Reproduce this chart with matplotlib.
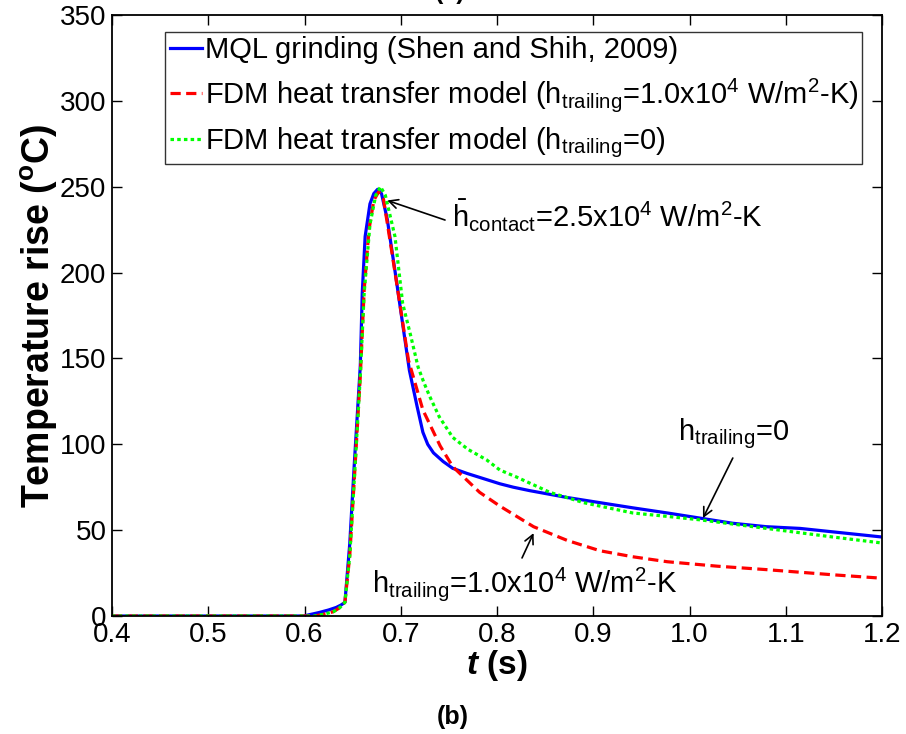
import matplotlib
matplotlib.use("Agg")
import matplotlib.pyplot as plt

plt.rcParams['font.family'] = ['Liberation Sans', 'DejaVu Sans']
plt.rcParams['mathtext.fontset'] = 'custom'
plt.rcParams['mathtext.rm'] = 'Liberation Sans'
plt.rcParams['mathtext.it'] = 'Liberation Sans:italic'
plt.rcParams['mathtext.bf'] = 'Liberation Sans:bold'
try:
    plt.rcParams['mathtext.bfit'] = 'Liberation Sans:italic:bold'
except KeyError:
    pass

# ---- data ----
t_mql = [0.40, 0.60, 0.603, 0.615, 0.625, 0.633, 0.638, 0.642, 0.647, 0.652, 0.658, 0.660,
         0.663, 0.668, 0.672, 0.676, 0.680, 0.686, 0.694, 0.702, 0.709, 0.717, 0.723, 0.728,
         0.734, 0.744, 0.754, 0.769, 0.803, 0.817, 0.834, 0.873, 0.907, 0.941, 0.977, 1.011,
         1.045, 1.08, 1.115, 1.149, 1.2]
T_mql = [0, 0, 0.5, 2, 3.5, 5, 6.4, 8, 42, 91, 146, 188,
         221, 240, 246, 248.5, 246, 231, 201, 170, 143, 122, 107, 100,
         95, 90, 86, 83, 77, 75, 73, 69, 66, 63, 60, 57,
         54, 52, 51, 49, 46]

t_h1 = [0.40, 0.61, 0.62, 0.63, 0.637, 0.642, 0.647, 0.652, 0.658, 0.662, 0.667, 0.672,
        0.677, 0.682, 0.691, 0.699, 0.708, 0.723, 0.741, 0.754, 0.782, 0.803, 0.838, 0.873,
        0.907, 0.941, 0.977, 1.029, 1.08, 1.149, 1.2]
T_h1 = [0, 0, 1, 2.5, 5, 8, 35, 82, 140, 190, 225, 242,
        247, 243, 211, 182, 149, 120, 99, 87, 72, 64, 52, 44,
        38, 34.5, 31.6, 29, 27, 24, 22]

t_h0 = [0.40, 0.61, 0.62, 0.63, 0.637, 0.642, 0.647, 0.652, 0.658, 0.662, 0.668, 0.674,
        0.679, 0.684, 0.694, 0.702, 0.710, 0.718, 0.724, 0.730, 0.740, 0.754, 0.770, 0.789,
        0.803, 0.820, 0.855, 0.890, 0.941, 0.977, 1.011, 1.08, 1.149, 1.2]
T_h0 = [0, 0, 1, 2.5, 5, 8, 35, 82, 140, 188, 228, 245,
        250, 245, 221, 182, 164, 145, 136, 128, 116, 104, 97, 91,
        85, 81, 72, 66, 60, 58, 56, 51, 46, 42.5]

labels = ['MQL grinding (Shen and Shih, 2009)',
          r'FDM heat transfer model (h$_{\mathrm{trailing}}$=1.0x10$^{4}$ W/m$^{2}$-K)',
          r'FDM heat transfer model (h$_{\mathrm{trailing}}$=0)']
xticks = [0.4, 0.5, 0.6, 0.7, 0.8, 0.9, 1.0, 1.1, 1.2]
xticklabels = ['0.4', '0.5', '0.6', '0.7', '0.8', '0.9', '1.0', '1.1', '1.2']
yticks = [0, 50, 100, 150, 200, 250, 300, 350]

fig = plt.figure(figsize=(9.06, 7.34), dpi=100)
ax = fig.add_axes([112/906, 1-616/734, 770/906, 601/734])

ax.plot(t_mql, T_mql, color='#0000ff', lw=2.3, ls='-', label=labels[0])
ax.plot(t_h1, T_h1, color='#ff0000', lw=2.3, ls=(0, (3.2, 1.7)), label=labels[1])
ax.plot(t_h0, T_h0, color='#00ff00', lw=2.3, ls=(0, (1.1, 1.0)), label=labels[2])

ax.set_xlim(0.4, 1.2)
ax.set_ylim(0, 350)
ax.set_xticks(xticks)
ax.set_xticklabels(xticklabels)
ax.set_yticks(yticks)
ax.tick_params(direction='in', length=7, width=1, top=True, right=True,
               labelsize=20, pad=4)
for s in ax.spines.values():
    s.set_linewidth(1.3)

ax.set_xlabel(r'$\mathbfit{t}$ (s)', fontsize=24, fontweight='bold', labelpad=0)
ax.set_ylabel(r'Temperature rise ($^{\mathbf{o}}$C)', fontsize=27, fontweight='bold', labelpad=0)

leg = ax.legend(loc='upper left', bbox_to_anchor=(0.069, 0.972), borderaxespad=0,
                fontsize=21, frameon=True, fancybox=False, edgecolor='black',
                handlelength=1.1, handletextpad=0.1, labelspacing=0.4,
                borderpad=0.15)
leg.get_frame().set_linewidth(1.0)

ann_fs = 21
arrow_kw = dict(arrowstyle='->', color='black', lw=1.2, shrinkA=0, shrinkB=0,
                mutation_scale=16)

ax.text(0.753, 226.5, r'$\bar{\mathrm{h}}_{\mathrm{contact}}$=2.5x10$^{4}$ W/m$^{2}$-K',
        fontsize=ann_fs, va='baseline', ha='left')
ax.annotate('', xy=(0.686, 242), xytext=(0.746, 230.6), arrowprops=arrow_kw)

ax.text(0.988, 102.5, r'h$_{\mathrm{trailing}}$=0', fontsize=ann_fs, va='baseline', ha='left')
ax.annotate('', xy=(1.014, 57), xytext=(1.045, 92), arrowprops=arrow_kw)

ax.text(0.670, 14, r'h$_{\mathrm{trailing}}$=1.0x10$^{4}$ W/m$^{2}$-K',
        fontsize=ann_fs, va='baseline', ha='left')
ax.annotate('', xy=(0.838, 48.3), xytext=(0.826, 33.8), arrowprops=arrow_kw)

fig.text(453/906, 1-717/734, '(b)', fontsize=18, fontweight='bold', ha='center', va='center')
fig.text(450/906, 1-4/734, '(a)', fontsize=18, fontweight='bold', ha='center', va='bottom')

fig.savefig('out.png', dpi=100)
